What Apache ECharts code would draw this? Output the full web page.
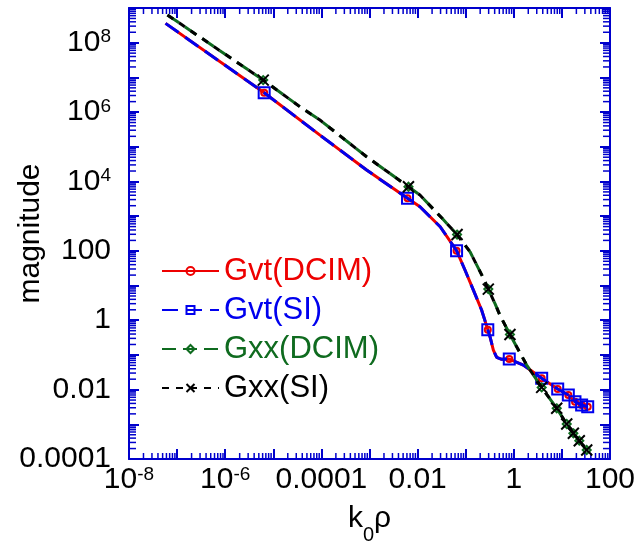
<!DOCTYPE html>
<html>
<head>
<meta charset="utf-8">
<script src="https://cdn.jsdelivr.net/npm/echarts@6/dist/echarts.min.js"></script>
<style>html,body{margin:0;padding:0;background:#fff;}#c{width:638px;height:549px;}</style>
</head>
<body>
<div id="c"></div>
<script>
// ---- data ----
const gvtX = [5.75e-8, 6.46e-6, 9.33e-5, 8.71e-4, 6.17e-3, 1.12e-2, 2.95e-2, 6.46e-2, 9.66e-2, 0.1445, 0.214, 0.288, 0.32, 0.376, 0.441, 0.56, 0.805, 1.58, 3.8, 8.18, 13.6, 18.7, 25.7, 34.4];
const gvtY = [3.6e8, 3.6e6, 2.17e5, 2.13e4, 3.26e3, 1.87e3, 495, 101, 28, 7.4, 1.97, 0.535, 0.335, 0.138, 0.085, 0.0746, 0.0762, 0.0512, 0.0212, 0.0104, 0.00698, 0.00448, 0.0036, 0.00321];
const gvtMarker = [0,1,0,0,1,0,0,1,0,0,0,1,0,0,0,0,1,0,1,1,1,1,1,1];

const gxxX = [6.3e-8, 6.17e-6, 3.59e-5, 9.33e-5, 8.71e-4, 6.46e-3, 1.12e-2, 3.2e-2, 6.61e-2, 0.123, 0.232, 0.295, 0.407, 0.516, 0.832, 1.85, 3.8, 7.8, 12.6, 17.3, 23.0, 32.8];
const gxxY = [6.3e8, 8.36e6, 1.42e6, 5.89e5, 5.15e4, 7.03e3, 4.06e3, 880, 295, 94, 16.6, 7.9, 3.0, 1.38, 0.389, 0.0512, 0.0116, 0.00289, 0.00102, 5.5e-4, 3.37e-4, 1.82e-4];
const gxxMarker = [0,1,0,0,0,1,0,0,1,0,0,1,0,0,1,0,1,1,1,1,1,1];

const seriesNames = ['Gvt(DCIM)', 'Gvt(SI)', 'Gxx(DCIM)', 'Gxx(SI)'];

const xTickExp = [-8, -6, -4, -2, 0, 2];
const xTickText = ['10^-8', '10^-6', '0.0001', '0.01', '1', '100'];
const yTickExp = [-4, -2, 0, 2, 4, 6, 8];
const yTickText = ['0.0001', '0.01', '1', '100', '10^4', '10^6', '10^8'];

const xMinorDecades = [-8, -7, -6, -5, -4, -3, -2, -1, 0, 1];
const yMinorDecades = [-4, -3, -2, -1, 0, 1, 2, 3, 4, 5, 6, 7, 8];
const minorMult = [2, 3, 4, 5, 6, 7, 8, 9];

// ---- styling ----
const AX = '#0000cc';
const RED = '#ee0000', BLUE = '#0000ee', GREEN = '#0f6b1f', BLACK = '#000000';
const FONT = '"Liberation Sans", Arial, Helvetica, sans-serif';
const XMIN = 1e-8, XMAX = 100, YMIN = 1e-4, YMAX = 1e9;

function mkData(xs, ys, marks) {
  return xs.map((x, i) => marks[i] ? [x, ys[i]] : { value: [x, ys[i]], symbol: 'none' });
}
function labelFmt(exps, texts) {
  return function (v) {
    const e = Math.round(Math.log10(v));
    const i = exps.indexOf(e);
    if (i < 0) return '';
    const t = texts[i];
    if (t.indexOf('^') >= 0) {
      const p = t.split('^');
      return '{b|' + p[0] + '}{s|' + p[1] + '}';
    }
    return '{b|' + t + '}';
  };
}
const tickRich = {
  b: { fontSize: 30, lineHeight: 30, padding: [6, 0, 6, 0], verticalAlign: 'middle', fontFamily: FONT, color: '#000' },
  s: { fontSize: 19, lineHeight: 19, verticalAlign: 'top', fontFamily: FONT, color: '#000' }
};

const xMinor = [], yMinor = [];
xMinorDecades.forEach(d => minorMult.forEach(m => xMinor.push([m * Math.pow(10, d), 1])));
yMinorDecades.forEach(d => minorMult.forEach(m => yMinor.push([1, m * Math.pow(10, d)])));

function axisCommon(extra) {
  return Object.assign({
    type: 'log', logBase: 10, interval: 1,
    axisLine: { show: true, onZero: false, lineStyle: { color: AX, width: 2 } },
    axisTick: { show: true, inside: true, length: 10, lineStyle: { color: AX, width: 2 } },
    splitLine: { show: false },
    minorTick: { show: false },
    minorSplitLine: { show: false }
  }, extra);
}

const chart = echarts.init(document.getElementById('c'), null, { renderer: 'canvas' });
chart.setOption({
  animation: false,
  backgroundColor: '#fff',
  grid: { left: 129, right: 28, top: 8, bottom: 90, containLabel: false, outerBoundsMode: 'none' },
  xAxis: [
    axisCommon({ position: 'bottom', min: XMIN, max: XMAX, splitNumber: 10,
      axisLabel: { show: true, margin: 6, formatter: labelFmt(xTickExp, xTickText), rich: tickRich, hideOverlap: false, showMinLabel: true, showMaxLabel: true },
      name: '{m|k}{sub|0}{m|ρ}', nameLocation: 'middle', nameGap: 53, nameMoveOverlap: false,
      nameTextStyle: { rich: {
        m: { fontSize: 30, lineHeight: 30, padding: [0, 0, 17, 0], verticalAlign: 'middle', fontFamily: FONT, color: '#000' },
        sub: { fontSize: 20, lineHeight: 20, padding: [17, 0, 0, 0], verticalAlign: 'middle', fontFamily: FONT, color: '#000' }
      } }
    }),
    axisCommon({ position: 'top', min: XMIN, max: XMAX, splitNumber: 10, axisLabel: { show: false } })
  ],
  yAxis: [
    axisCommon({ position: 'left', min: YMIN, max: YMAX, splitNumber: 13,
      axisLabel: { show: true, margin: 18, formatter: labelFmt(yTickExp, yTickText), rich: tickRich, hideOverlap: false, showMinLabel: true, showMaxLabel: true },
      name: 'magnitude', nameLocation: 'middle', nameGap: 83, nameMoveOverlap: false,
      nameTextStyle: { fontSize: 30, lineHeight: 30, fontFamily: FONT, color: '#000' }
    }),
    axisCommon({ position: 'right', min: YMIN, max: YMAX, splitNumber: 13, axisLabel: { show: false } })
  ],
  legend: {
    orient: 'vertical', left: 156, top: 249, itemGap: 5,
    itemWidth: 57, itemHeight: 10,
    textStyle: { fontSize: 31, lineHeight: 34, fontFamily: FONT },
    data: [
      { name: seriesNames[0], textStyle: { color: RED } },
      { name: seriesNames[1], textStyle: { color: BLUE } },
      { name: seriesNames[2], textStyle: { color: GREEN } },
      { name: seriesNames[3], textStyle: { color: BLACK } }
    ]
  },
  series: [
    { type: 'custom', silent: true, xAxisIndex: 0, yAxisIndex: 0, data: xMinor, clip: false, z: 1,
      renderItem: function (params, api) {
        const v = api.value(0);
        const b = api.coord([v, YMIN]), t = api.coord([v, YMAX]);
        const st = { stroke: AX, lineWidth: 1.5 };
        return { type: 'group', children: [
          { type: 'line', shape: { x1: b[0], y1: b[1], x2: b[0], y2: b[1] - 6 }, style: st },
          { type: 'line', shape: { x1: t[0], y1: t[1], x2: t[0], y2: t[1] + 6 }, style: st }
        ] };
      } },
    { type: 'custom', silent: true, xAxisIndex: 0, yAxisIndex: 0, data: yMinor, clip: false, z: 1,
      renderItem: function (params, api) {
        const v = api.value(1);
        const l = api.coord([XMIN, v]), r = api.coord([XMAX, v]);
        const st = { stroke: AX, lineWidth: 1.5 };
        return { type: 'group', children: [
          { type: 'line', shape: { x1: l[0], y1: l[1], x2: l[0] + 7, y2: l[1] }, style: st },
          { type: 'line', shape: { x1: r[0], y1: r[1], x2: r[0] - 7, y2: r[1] }, style: st }
        ] };
      } },
    { name: seriesNames[0], type: 'line', data: mkData(gvtX, gvtY, gvtMarker), showAllSymbol: true,
      symbol: 'circle', symbolSize: 6,
      lineStyle: { color: RED, width: 3, type: 'solid' },
      itemStyle: { color: 'rgba(0,0,0,0)', borderColor: RED, borderWidth: 2 } , z: 3},
    { name: seriesNames[1], type: 'line', data: mkData(gvtX, gvtY, gvtMarker), showAllSymbol: true,
      symbol: 'rect', symbolSize: 11,
      lineStyle: { color: BLUE, width: 3, type: [16, 8] },
      itemStyle: { color: 'rgba(0,0,0,0)', borderColor: BLUE, borderWidth: 2 }, z: 4 },
    { name: seriesNames[2], type: 'line', data: mkData(gxxX, gxxY, gxxMarker), showAllSymbol: true,
      symbol: 'diamond', symbolSize: 8,
      lineStyle: { color: GREEN, width: 3, type: [14, 7] },
      itemStyle: { color: 'rgba(0,0,0,0)', borderColor: GREEN, borderWidth: 2 }, z: 5 },
    { name: seriesNames[3], type: 'line', data: mkData(gxxX, gxxY, gxxMarker), showAllSymbol: true,
      symbol: 'path://M0,0L10,10M10,0L0,10', symbolSize: 11,
      lineStyle: { color: BLACK, width: 3, type: [7, 7] },
      itemStyle: { color: 'rgba(0,0,0,0)', borderColor: BLACK, borderWidth: 2 }, z: 6 }
  ]
});
</script>
</body>
</html>
